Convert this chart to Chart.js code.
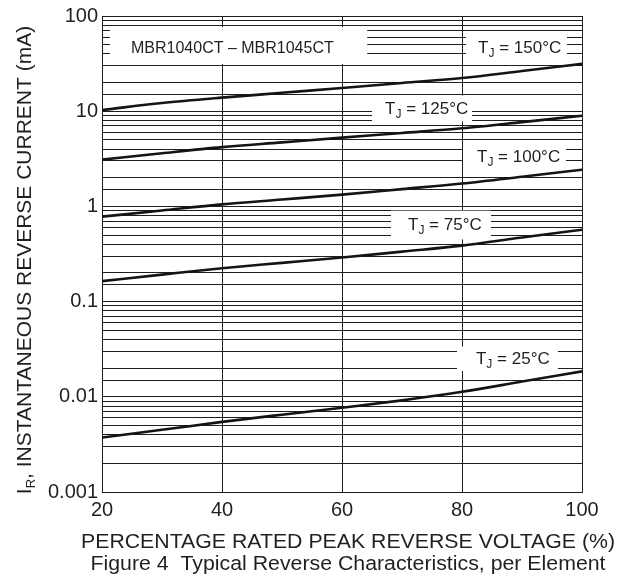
<!DOCTYPE html>
<html><head><meta charset="utf-8">
<script src="https://cdn.jsdelivr.net/npm/chart.js@4.4.1/dist/chart.umd.min.js"></script>
<style>html,body{margin:0;padding:0;background:#fff}#wrap{width:630px;height:577px;position:relative}</style>
</head><body><div id="wrap"><canvas id="c" width="630" height="577"></canvas></div>
<script>
// ---- data ----
const voltagePct = [20, 30, 40, 50, 60, 70, 80, 90, 100];
const irTj150 = [10.3, 12.2, 13.9, 15.6, 17.5, 19.8, 22.3, 26.4, 31.4];
const irTj125 = [3.1, 3.62, 4.19, 4.70, 5.28, 5.90, 6.61, 7.67, 8.96];
const irTj100 = [0.78, 0.906, 1.05, 1.18, 1.33, 1.52, 1.74, 2.05, 2.43];
const irTj75  = [0.164, 0.192, 0.224, 0.255, 0.290, 0.335, 0.387, 0.472, 0.568];
const irTj25  = [0.00374, 0.00450, 0.00545, 0.00649, 0.00768, 0.00918, 0.01128, 0.01445, 0.0185];
const seriesTemps = ['150°C', '125°C', '100°C', '75°C', '25°C'];
const xTickValues = [20, 40, 60, 80, 100];
const yTickLabels = ['0.001', '0.01', '0.1', '1', '10', '100'];
const deviceLabel = 'MBR1040CT – MBR1045CT';
const xTitle = 'PERCENTAGE RATED PEAK REVERSE VOLTAGE (%)';
const yTitleMain = 'I';
const yTitleSub = 'R';
const yTitleRest = ', INSTANTANEOUS REVERSE CURRENT (mA)';
const caption = 'Figure 4  Typical Reverse Characteristics, per Element';

// ---- styling / placement (data-space positions for the label boxes) ----
const FONT = '"Liberation Sans", Arial, Helvetica, sans-serif';
const INK = '#231f20';
const GRID = '#1e1e1e';
const labelBoxes = [
  {text: deviceLabel, size: 16, box: [21.33, 64.2, 76.2, 31.4], tx: 24.83, ty: 40.6},
  {temp: 0, box: [80.67, 97.5, 67.6, 35.4], tx: 82.67, ty: 40.6},
  {temp: 1, box: [65.0, 81.67, 14.6, 7.81], tx: 67.17, ty: 9.25},
  {temp: 2, box: [80.17, 97.33, 4.28, 2.53], tx: 82.5, ty: 2.90},
  {temp: 3, box: [68.17, 84.83, 0.902, 0.450], tx: 71.0, ty: 0.567},
  {temp: 4, box: [79.17, 96.0, 0.0337, 0.0187], tx: 82.33, ty: 0.0221}
];

function drawRun(ctx, parts, x, y, sx) {
  ctx.save();
  ctx.translate(x, y);
  ctx.scale(sx, 1);
  ctx.textBaseline = 'alphabetic';
  ctx.textAlign = 'left';
  let cx = 0;
  for (const p of parts) {
    ctx.font = p.size + 'px ' + FONT;
    ctx.fillText(p.t, cx, p.dy || 0);
    cx += ctx.measureText(p.t).width;
  }
  ctx.restore();
}
function runWidth(ctx, parts) {
  let w = 0;
  for (const p of parts) { ctx.font = p.size + 'px ' + FONT; w += ctx.measureText(p.t).width; }
  return w;
}

const annotationPlugin = {
  id: 'annot',
  beforeDatasetsDraw(chart) {
    const ctx = chart.ctx, xs = chart.scales.x, ys = chart.scales.y;
    ctx.save();
    for (const L of labelBoxes) {
      const x1 = xs.getPixelForValue(L.box[0]), x2 = xs.getPixelForValue(L.box[1]);
      const y1 = ys.getPixelForValue(L.box[2]), y2 = ys.getPixelForValue(L.box[3]);
      ctx.fillStyle = '#ffffff';
      ctx.fillRect(x1, y1, x2 - x1, y2 - y1);
      ctx.fillStyle = INK;
      const tx = xs.getPixelForValue(L.tx), ty = ys.getPixelForValue(L.ty);
      let parts;
      if (L.text) parts = [{t: L.text, size: L.size}];
      else parts = [{t: 'T', size: 17}, {t: 'J', size: 12, dy: 4}, {t: ' = ' + seriesTemps[L.temp], size: 17}];
      drawRun(ctx, parts, tx, ty, 1);
    }
    ctx.restore();
  },
  afterDraw(chart) {
    const ctx = chart.ctx, a = chart.chartArea;
    ctx.save();
    ctx.fillStyle = INK;
    // x title
    let parts = [{t: xTitle, size: 20}];
    let w = runWidth(ctx, parts), sx = 534 / w;
    drawRun(ctx, parts, 348 - 267, 547.5, sx);
    // caption
    parts = [{t: caption, size: 20}];
    w = runWidth(ctx, parts); sx = 515 / w;
    drawRun(ctx, parts, 348 - 257.5, 570, sx);
    // y title (rotated)
    parts = [{t: yTitleMain, size: 21}, {t: yTitleSub, size: 13, dy: 4}, {t: yTitleRest, size: 21}];
    w = runWidth(ctx, parts);
    ctx.save();
    ctx.translate(30.5, 260 + w / 2);
    ctx.rotate(-Math.PI / 2);
    drawRun(ctx, parts, 0, 0, 1);
    ctx.restore();
    ctx.restore();
  }
};

const seriesValues = [irTj150, irTj125, irTj100, irTj75, irTj25];
const datasets = seriesValues.map((vals, i) => ({
  label: 'TJ = ' + seriesTemps[i],
  data: voltagePct.map((v, k) => ({x: v, y: vals[k]})),
  borderColor: '#141414',
  borderWidth: 2.6,
  pointRadius: 0,
  fill: false,
  cubicInterpolationMode: 'monotone'
}));

new Chart(document.getElementById('c'), {
  type: 'line',
  data: {datasets},
  options: {
    responsive: false,
    devicePixelRatio: 1,
    animation: false,
    layout: {padding: {top: 12, right: 48, bottom: 0, left: 0}},
    plugins: {legend: {display: false}, tooltip: {enabled: false}, title: {display: false}},
    scales: {
      x: {
        type: 'linear', min: 20, max: 100,
        afterBuildTicks: s => { s.ticks = xTickValues.map(v => ({value: v})); },
        afterFit: s => { s.height = 85; },
        ticks: {font: {family: FONT, size: 20}, color: INK, padding: 6, autoSkip: false, maxRotation: 0,
                callback: v => String(v)},
        grid: {color: GRID, lineWidth: 1, drawTicks: false},
        border: {color: GRID, width: 1}
      },
      y: {
        type: 'logarithmic', min: 0.001, max: 100,
        afterFit: s => { s.width = 102; },
        ticks: {font: {family: FONT, size: 20}, color: INK, padding: 4, autoSkip: false,
                callback: v => { const e = Math.log10(v), r = Math.round(e); return Math.abs(e - r) < 1e-6 ? yTickLabels[r + 3] : ''; }},
        grid: {color: GRID, lineWidth: 1, drawTicks: false},
        border: {color: GRID, width: 1}
      }
    }
  },
  plugins: [annotationPlugin]
});
</script>
</body></html>
